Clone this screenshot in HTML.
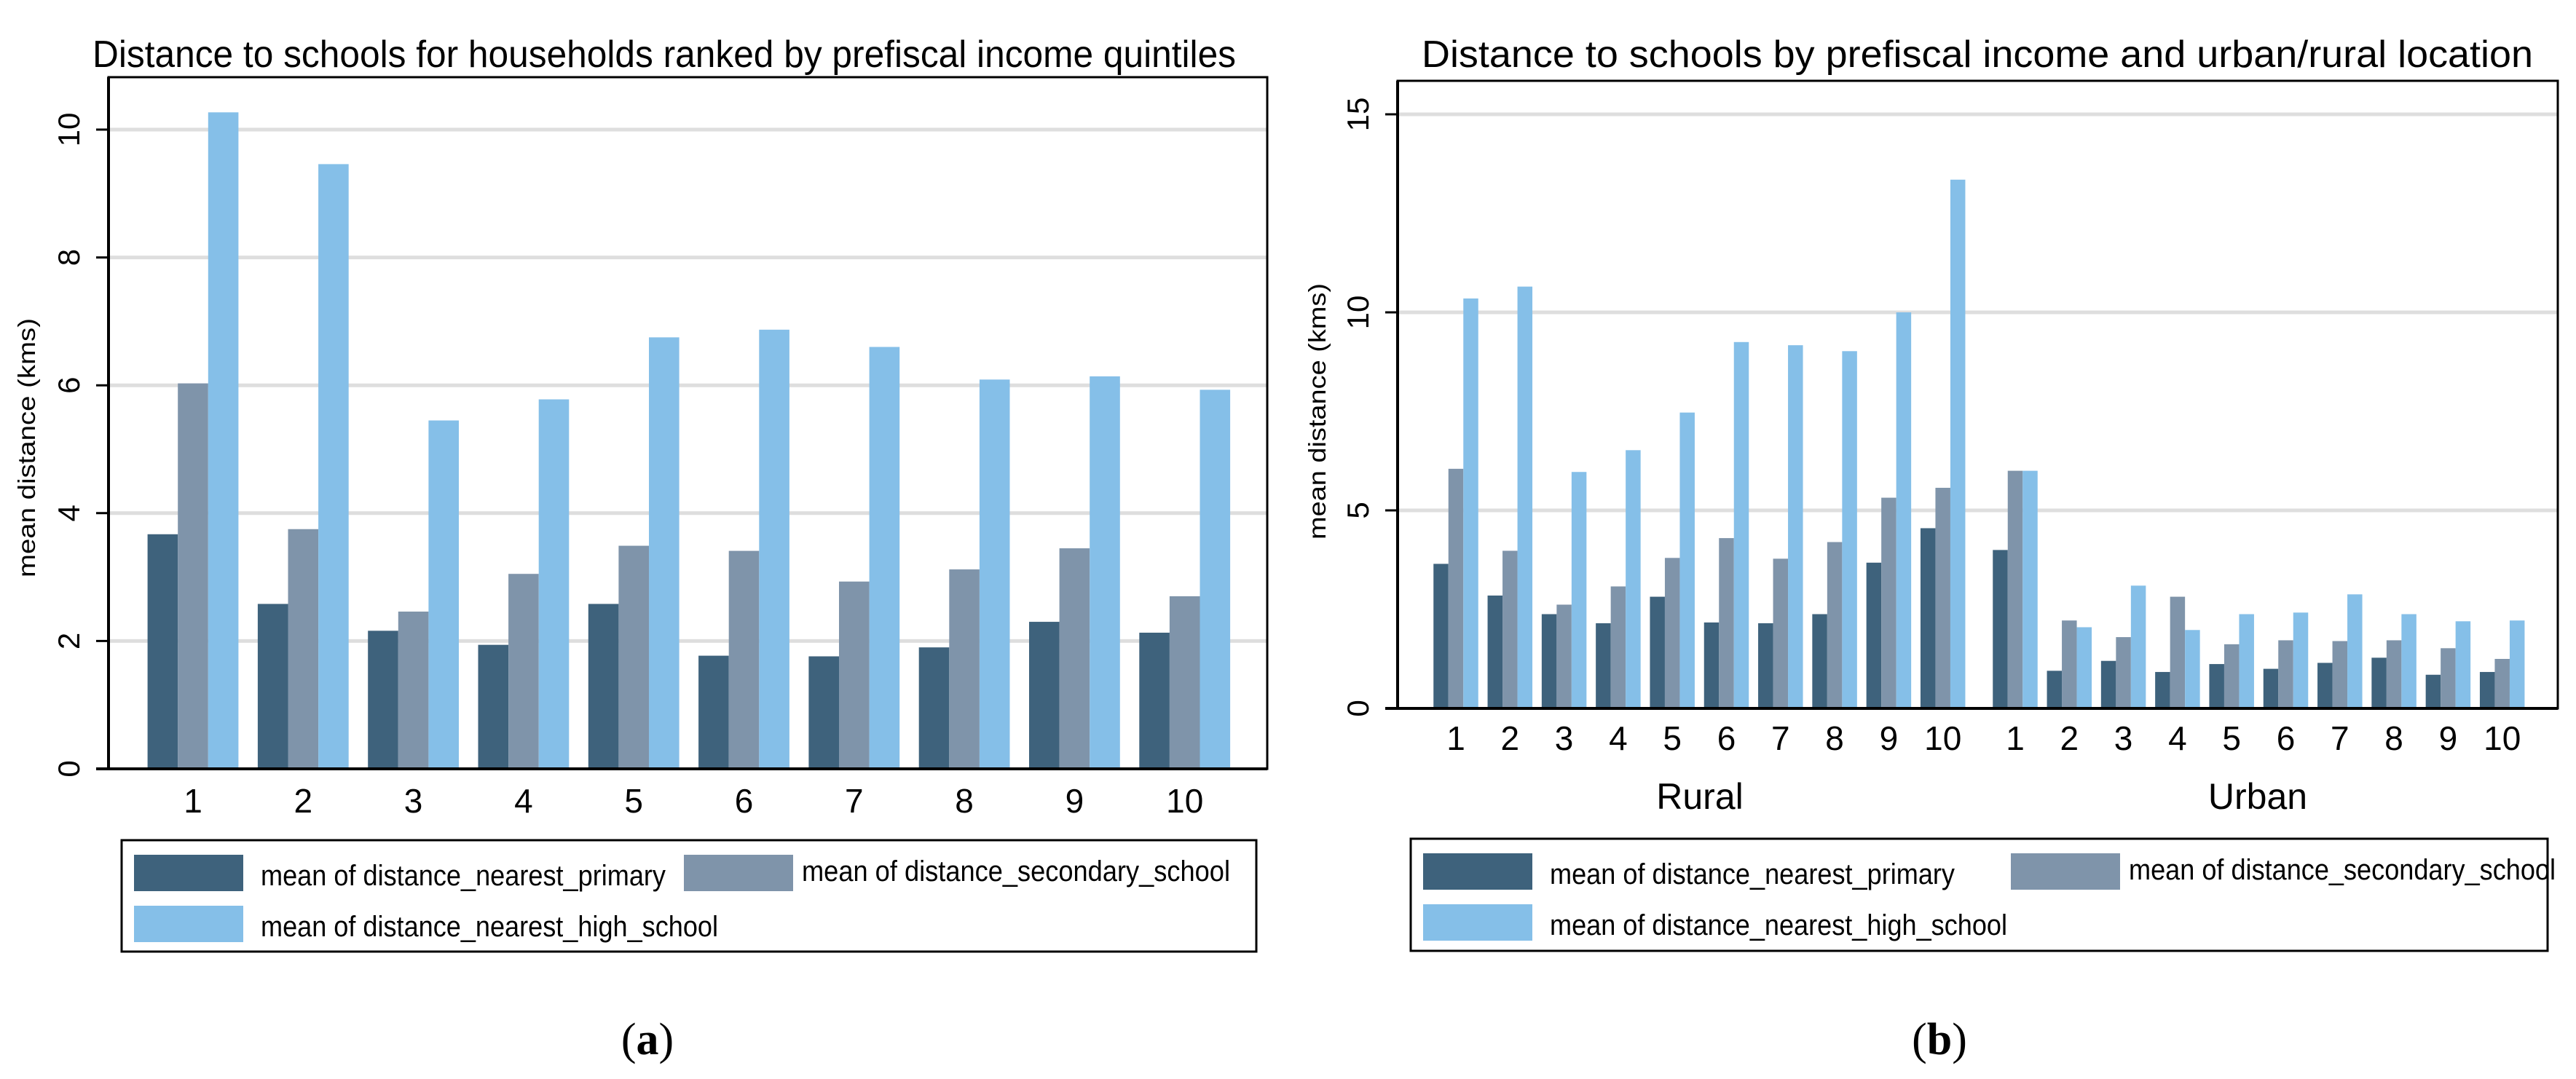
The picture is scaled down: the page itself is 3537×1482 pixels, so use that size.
<!DOCTYPE html>
<html><head><meta charset="utf-8">
<style>
html,body{margin:0;padding:0;background:#fff;}
svg{display:block;}
text{font-family:"Liberation Sans",sans-serif;fill:#000;}
</style></head>
<body>
<svg id="chart" width="3537" height="1482" viewBox="0 0 3537 1482" xmlns="http://www.w3.org/2000/svg">
<rect x="0" y="0" width="3537" height="1482" fill="#fff"/>
</svg>
<script>
// ---------- data ----------
const categoriesA = ["1","2","3","4","5","6","7","8","9","10"];
const primaryA = [3.67, 2.58, 2.16, 1.94, 2.58, 1.77, 1.76, 1.90, 2.30, 2.13];
const secondaryA = [6.03, 3.75, 2.46, 3.05, 3.49, 3.41, 2.93, 3.12, 3.45, 2.70];
const highA = [10.27, 9.46, 5.45, 5.78, 6.75, 6.87, 6.60, 6.09, 6.14, 5.93];
const ticksA = [0, 2, 4, 6, 8, 10];

const categoriesB = ["1","2","3","4","5","6","7","8","9","10"];
const groupsB = ["Rural", "Urban"];
const primaryRural = [3.65, 2.85, 2.38, 2.15, 2.82, 2.17, 2.15, 2.38, 3.68, 4.55];
const secondaryRural = [6.05, 3.98, 2.62, 3.08, 3.80, 4.30, 3.78, 4.20, 5.32, 5.57];
const highRural = [10.35, 10.65, 5.97, 6.52, 7.47, 9.25, 9.17, 9.02, 10.0, 13.35];
const primaryUrban = [4.0, 0.95, 1.2, 0.92, 1.12, 1.0, 1.15, 1.28, 0.85, 0.92];
const secondaryUrban = [6.0, 2.22, 1.8, 2.82, 1.62, 1.72, 1.7, 1.72, 1.52, 1.25];
const highUrban = [6.0, 2.05, 3.1, 1.98, 2.38, 2.42, 2.88, 2.38, 2.2, 2.22];
const ticksB = [0, 5, 10, 15];

const seriesNames = ["mean of distance_nearest_primary","mean of distance_secondary_school","mean of distance_nearest_high_school"];
const COLORS = ["#3e627c", "#7f94aa", "#85bfe8"];

const svg = document.getElementById('chart');
const NS = "http://www.w3.org/2000/svg";
function mk(tag, attrs, parent) {
  const e = document.createElementNS(NS, tag);
  for (const k in attrs) e.setAttribute(k, attrs[k]);
  (parent || svg).appendChild(e);
  return e;
}
function txt(str, attrs, parent) { const t = mk('text', attrs, parent); t.textContent = str; return t; }

function drawPanel(cfg) {
  const g = mk('g', {});
  
  
  const y = v => cfg.y0 - (v - 0) * cfg.pxPerUnit;
  cfg.ticks.forEach(t => {
    if (t > 0) {
      const l = mk('line', {x1: cfg.left, x2: cfg.right, y1: y(t), y2: y(t), stroke: '#dedede', 'stroke-width': 5}, g);
      
      
    }
  });
  cfg.groups.forEach(grp => {
    grp.cats.forEach((c, i) => {
      const cx = grp.x(i);
      grp.series.forEach((arr, s) => {
        const x = cx - 1.5 * cfg.bw + s * cfg.bw;
        const r = mk('rect', {x: x, y: y(arr[i]), width: cfg.bw, height: cfg.y0 - y(arr[i]), fill: COLORS[s]}, g);
        
        
      });
      const t = txt(c, {x: cx, y: cfg.xLabelY, 'font-size': cfg.xFont, 'text-anchor': 'middle'}, g);
      
      
    });
  });
  const fr = mk('rect', {x: cfg.left, y: cfg.top, width: cfg.right - cfg.left, height: cfg.y0 - cfg.top, fill: 'none', stroke: '#000', 'stroke-width': 3}, g);
  
  
  const ax = mk('line', {x1: cfg.left - 17, x2: cfg.right, y1: cfg.y0, y2: cfg.y0, stroke: '#000', 'stroke-width': 4}, g);
  
  
  const ay = mk('line', {x1: cfg.left, x2: cfg.left, y1: cfg.top, y2: cfg.y0, stroke: '#000', 'stroke-width': 4}, g);
  
  
  cfg.ticks.forEach(t => {
    const tk = mk('line', {x1: cfg.left - 17, x2: cfg.left, y1: y(t), y2: y(t), stroke: '#000', 'stroke-width': 3}, g);
    
    
    const tl = txt(String(t), {x: 0, y: 0, 'font-size': 42, 'text-anchor': 'middle', transform: 'translate(' + (cfg.left - 40) + ',' + y(t) + ') rotate(-90)'}, g);
    
    
  });
  const yt = txt('mean distance (kms)', {x: 0, y: 0, 'font-size': 33, 'text-anchor': 'middle', textLength: cfg.yTitleW, lengthAdjust: 'spacingAndGlyphs', transform: 'translate(' + cfg.yTitleX + ',' + cfg.yTitleY + ') rotate(-90)'}, g);
  
  
  const tt = txt(cfg.title, {x: cfg.titleX, y: cfg.titleY, 'font-size': 52, textLength: cfg.titleW, lengthAdjust: 'spacingAndGlyphs'}, g);
  
  
  const L = cfg.legend;
  const lg = mk('g', {}, g);
  
  
  const lb = mk('rect', {x: L.x, y: L.y, width: L.w, height: L.h, fill: 'none', stroke: '#000', 'stroke-width': 3}, lg);
  
  
  const entries = [
    {sx: L.x + 17, sy: L.y + 20, tx: L.x + 191, ty: L.y + 62, tw: 556},
    {sx: L.s2x, sy: L.y + 20, tx: L.s2x + 162, ty: L.y + 56, tw: L.t2w},
    {sx: L.x + 17, sy: L.y + 90, tx: L.x + 191, ty: L.y + 132, tw: 628}
  ];
  entries.forEach((e, s) => {
    const sw = mk('rect', {x: e.sx, y: e.sy, width: 150, height: 50, fill: COLORS[s]}, lg);
    
    
    const et = txt(seriesNames[s], {x: e.tx, y: e.ty, 'font-size': 40, textLength: e.tw, lengthAdjust: 'spacingAndGlyphs'}, lg);
    
    
  });
  const cap = mk('text', {x: cfg.capX, y: 1448, 'font-size': 62, 'text-anchor': 'middle', style: 'font-family:"Liberation Serif",serif'}, g);
  const t1 = mk('tspan', {}, cap); t1.textContent = '(';
  const t2 = mk('tspan', {'font-weight': 'bold'}, cap); t2.textContent = cfg.capLetter;
  const t3 = mk('tspan', {}, cap); t3.textContent = ')';
  
  
  return g;
}

const stepA = 151.3;
drawPanel({
  name: 'panel-a', left: 149, right: 1740, top: 106, y0: 1056, pxPerUnit: 87.8, bw: 41.6,
  ticks: ticksA, xLabelY: 1116, xFont: 46,
  groups: [{key: 'q', cats: categoriesA, series: [primaryA, secondaryA, highA], x: i => 265 + i * stepA}],
  yTitleX: 48, yTitleY: 615, yTitleW: 356,
  title: 'Distance to schools for households ranked by prefiscal income quintiles', titleX: 127, titleY: 92, titleW: 1570,
  legend: {x: 167, y: 1154, w: 1558, h: 153, s2x: 939, t2w: 588},
  capX: 889, capLetter: 'a'
});

const stepB = 74.3;
const gB = drawPanel({
  name: 'panel-b', left: 1919, right: 3512, top: 111, y0: 973, pxPerUnit: 54.4, bw: 20.5,
  ticks: ticksB, xLabelY: 1030, xFont: 46,
  groups: [
    {key: 'rural', cats: categoriesB, series: [primaryRural, secondaryRural, highRural], x: i => 1999 + i * stepB},
    {key: 'urban', cats: categoriesB, series: [primaryUrban, secondaryUrban, highUrban], x: i => 2767 + i * stepB}
  ],
  yTitleX: 1820, yTitleY: 565, yTitleW: 352,
  title: 'Distance to schools by prefiscal income and urban/rural location', titleX: 1952, titleY: 92, titleW: 1526,
  legend: {x: 1937, y: 1152, w: 1561, h: 154, s2x: 2761, t2w: 586},
  capX: 2663, capLetter: 'b'
});
[[groupsB[0], 2334], [groupsB[1], 3100]].forEach(([lbl, x]) => {
  const t = txt(lbl, {x: x, y: 1111, 'font-size': 50, 'text-anchor': 'middle'}, gB);
  
  
});
</script>
</body></html>
